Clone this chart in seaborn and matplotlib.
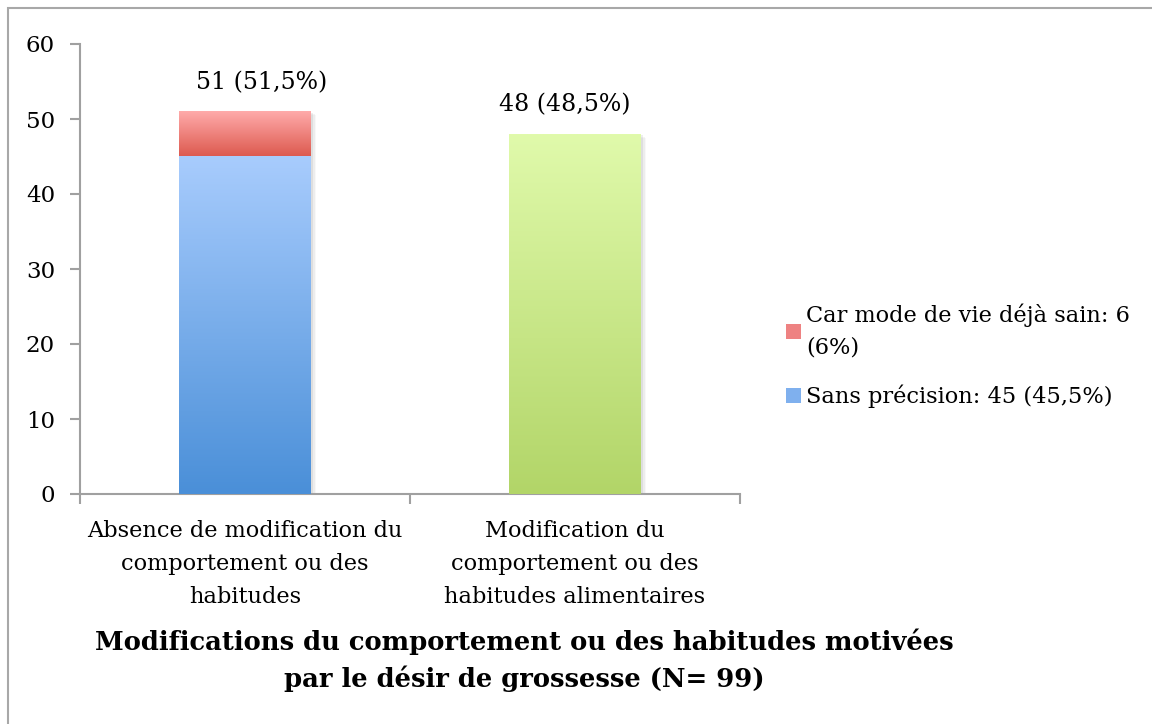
import numpy as np
import pandas as pd
import matplotlib
matplotlib.use("Agg")
import matplotlib.pyplot as plt
import seaborn as sns
from matplotlib.patches import Rectangle, Patch
from matplotlib.colors import LinearSegmentedColormap
import matplotlib.patheffects as pe

# ---- data ----
categories = ["Absence de modification du\ncomportement ou des\nhabitudes",
              "Modification du\ncomportement ou des\nhabitudes alimentaires"]
totals = [51, 48]
sans_precision = [45, 0]
bar_labels = ["51 (51,5%)", "48 (48,5%)"]
legend_labels = ["Car mode de vie déjà sain: 6\n(6%)", "Sans précision: 45 (45,5%)"]
title = "Modifications du comportement ou des habitudes motivées\npar le désir de grossesse (N= 99)"
yticks = [0, 10, 20, 30, 40, 50, 60]

sns.set_theme(style="white")
plt.rcParams['font.family'] = ['DejaVu Serif']

fig = plt.figure(figsize=(11.52, 7.24), dpi=100)
ax = fig.add_axes([80/1152, 1 - 494/724, 660/1152, 450/724])

df_tot = pd.DataFrame({"cat": categories, "val": totals})
df_base = pd.DataFrame({"cat": categories, "val": sans_precision})
sns.barplot(data=df_tot, x="cat", y="val", ax=ax, width=0.4,
            palette=["#ee8080", "#c8e888"], hue="cat", legend=False, saturation=1)
n_first = len(ax.patches)
sns.barplot(data=df_base, x="cat", y="val", ax=ax, width=0.4,
            color="#7fb0ee", saturation=1)

grads = {
    0: ("#dd5a50", "#ffabaa"),  # red segment
    1: ("#b2d568", "#e0faab"),  # green
    2: ("#4a8fd8", "#a8ccfd"),  # blue
}
patches = list(ax.patches)
for i, p in enumerate(patches):
    if p.get_height() <= 0:
        p.set_visible(False)
        continue
    x0, y0 = p.get_x(), p.get_y()
    w, h = p.get_width(), p.get_height()
    key = i if i < n_first else 2
    y_bottom = sans_precision[0] if i == 0 else y0
    c0, c1 = grads[key]
    cmap = LinearSegmentedColormap.from_list("g%d" % i, [c0, c1])
    grad = np.linspace(0, 1, 256).reshape(-1, 1)
    ax.imshow(grad, cmap=cmap, origin="lower", aspect="auto",
              extent=[x0, x0 + w, y_bottom, y0 + h], zorder=3)
    p.set_facecolor("none")
    p.set_edgecolor("none")
    if key != 2:
        # soft shadow behind the whole bar
        for k, a in enumerate([0.12, 0.08, 0.05]):
            shadow = Rectangle((x0, y0), w, h, facecolor="none", edgecolor="none", zorder=1,
                               path_effects=[pe.SimplePatchShadow(offset=(1.5 + k * 1.2, -1.0 - k * 0.8),
                                                                   shadow_rgbFace="#777777", alpha=a)])
            ax.add_patch(shadow)

ax.set_xlim(-0.5, 1.5)
ax.set_ylim(0, 60)

# labels above bars
offs = [0.05, -0.03]
for i, (t, lab) in enumerate(zip(totals, bar_labels)):
    ax.annotate(lab, xy=(i + offs[i], t), xytext=(0, 21), textcoords="offset points",
                ha="center", va="center", fontsize=17, color="#000000")

# axes styling
for s in ["top", "right"]:
    ax.spines[s].set_visible(False)
for s in ["left", "bottom"]:
    ax.spines[s].set_color("#a0a0a0")
    ax.spines[s].set_linewidth(1.5)
ax.set_yticks(yticks)
ax.set_yticklabels([str(v) for v in yticks], fontsize=16.5, color="#000000")
ax.set_xticks([0, 1])
ax.set_xticklabels(categories, fontsize=16.2, color="#000000", linespacing=1.65)
ax.set_xticks([-0.5, 0.5, 1.5], minor=True)
ax.tick_params(axis="y", direction="out", length=7, width=1.5, color="#a0a0a0", pad=11, left=True)
ax.tick_params(axis="x", which="major", length=0, pad=19)
ax.tick_params(axis="x", which="minor", direction="out", length=7, width=1.5, color="#a0a0a0", bottom=True)
ax.set_xlabel("")
ax.set_ylabel("")
ax.grid(False)

# legend
handles = [Patch(facecolor="#ee8282", edgecolor="none"),
           Patch(facecolor="#7fb0ee", edgecolor="none")]
fig.legend(handles, legend_labels, loc="center left",
           bbox_to_anchor=(786/1152, 1 - 356/724), frameon=False, fontsize=16.2,
           borderpad=0, borderaxespad=0,
           handlelength=0.65, handleheight=0.65, handletextpad=0.25, labelspacing=1.15,
           labelcolor="#000000")
for t in fig.legends[0].get_texts():
    t.set_linespacing(1.55)

fig.text(524/1152, 1 - 660/724, title, ha="center", va="center", fontsize=18.6,
         fontweight="bold", color="#000000", linespacing=1.5)

# outer frame
fig.patches.append(Rectangle((8/1152, -0.1), 1.2, 1 - 8/724 + 0.1, transform=fig.transFigure,
                             facecolor="none", edgecolor="#a8a8a8", linewidth=1.5))

fig.savefig("out.png", dpi=100)
